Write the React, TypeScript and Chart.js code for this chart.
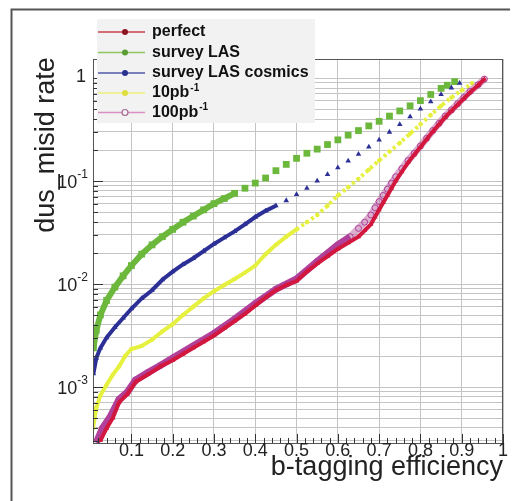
import React, { useEffect, useRef } from "react";
import { Chart, registerables } from "chart.js";
Chart.register(...registerables);

const X_MIN = 0.007;
const X_MAX = 1;
const Y_MIN = 2.86e-4;
const Y_MAX = 1.53;
const X_TICKS = [0.1, 0.2, 0.3, 0.4, 0.5, 0.6, 0.7, 0.8, 0.9, 1];
const X_TICK_LABELS = ["0.1", "0.2", "0.3", "0.4", "0.5", "0.6", "0.7", "0.8", "0.9", "1"];
const Y_DECADES = [1e-4, 1e-3, 1e-2, 1e-1, 1];
const Y_DECADE_LABELS = [["10", "-4"], ["10", "-3"], ["10", "-2"], ["10", "-1"], ["1", ""]];
const Y_MULTIPLIERS = [1, 2, 3, 4, 5, 6, 7, 8, 9];

const X_TITLE = "b-tagging efficiency";
const Y_TITLE = "dus_misid rate";

const SERIES_NAMES = ["perfect", "survey LAS", "survey LAS cosmics", "10pb", "100pb"];

// survey LAS (green)
const greenX = [0.008, 0.015, 0.025, 0.04, 0.06, 0.08, 0.1, 0.125, 0.15, 0.175, 0.2, 0.225, 0.25, 0.275, 0.3, 0.325, 0.35, 0.375, 0.4, 0.425, 0.45, 0.475, 0.5, 0.525, 0.55, 0.575, 0.6, 0.625, 0.65, 0.675, 0.7, 0.725, 0.75, 0.775, 0.8, 0.825, 0.85, 0.865, 0.883];
const greenY = [2.4e-3, 3.55e-3, 5.01e-3, 6.92e-3, 9.33e-3, 1.2e-2, 1.51e-2, 1.95e-2, 2.4e-2, 2.88e-2, 3.39e-2, 3.98e-2, 4.57e-2, 5.25e-2, 6.03e-2, 6.76e-2, 7.59e-2, 8.51e-2, 9.55e-2, 0.107, 0.126, 0.145, 0.166, 0.186, 0.204, 0.226, 0.251, 0.279, 0.309, 0.343, 0.38, 0.427, 0.479, 0.537, 0.603, 0.692, 0.794, 0.851, 0.923];

// survey LAS cosmics (blue)
const blueX = [0.008, 0.015, 0.025, 0.04, 0.06, 0.08, 0.1, 0.125, 0.15, 0.175, 0.2, 0.225, 0.25, 0.275, 0.3, 0.325, 0.35, 0.375, 0.4, 0.425, 0.45, 0.475, 0.5, 0.525, 0.55, 0.575, 0.6, 0.625, 0.65, 0.675, 0.7, 0.725, 0.75, 0.775, 0.8, 0.825, 0.85, 0.875, 0.895];
const blueY = [1.35e-3, 1.91e-3, 2.4e-3, 3.02e-3, 3.8e-3, 4.68e-3, 5.75e-3, 7.24e-3, 8.71e-3, 1.1e-2, 1.32e-2, 1.55e-2, 1.78e-2, 2.09e-2, 2.45e-2, 2.82e-2, 3.24e-2, 3.8e-2, 4.47e-2, 5.13e-2, 5.75e-2, 6.46e-2, 7.41e-2, 8.51e-2, 0.1, 0.116, 0.135, 0.157, 0.182, 0.214, 0.251, 0.299, 0.355, 0.422, 0.501, 0.589, 0.692, 0.804, 0.891];

// 10pb-1 (yellow)
const yellowX = [0.007, 0.015, 0.025, 0.04, 0.055, 0.07, 0.085, 0.1, 0.125, 0.15, 0.175, 0.2, 0.225, 0.25, 0.275, 0.3, 0.325, 0.35, 0.375, 0.4, 0.425, 0.45, 0.475, 0.5, 0.525, 0.55, 0.575, 0.6, 0.625, 0.65, 0.675, 0.7, 0.725, 0.75, 0.775, 0.8, 0.825, 0.85, 0.875, 0.9, 0.925];
const yellowY = [3.98e-4, 6.31e-4, 8.32e-4, 1.05e-3, 1.32e-3, 1.58e-3, 2.0e-3, 2.34e-3, 2.51e-3, 2.88e-3, 3.47e-3, 4.07e-3, 5.01e-3, 6.03e-3, 7.24e-3, 8.51e-3, 9.77e-3, 1.12e-2, 1.29e-2, 1.51e-2, 1.95e-2, 2.4e-2, 2.88e-2, 3.39e-2, 3.98e-2, 4.68e-2, 5.75e-2, 7.24e-2, 8.71e-2, 0.105, 0.129, 0.158, 0.193, 0.234, 0.288, 0.355, 0.437, 0.537, 0.646, 0.759, 0.891];

// perfect (red)
const redX = [0.025, 0.04, 0.055, 0.07, 0.09, 0.11, 0.14, 0.17, 0.2, 0.225, 0.25, 0.275, 0.3, 0.325, 0.35, 0.375, 0.4, 0.425, 0.45, 0.475, 0.5, 0.525, 0.55, 0.575, 0.6, 0.625, 0.65, 0.665, 0.68, 0.69, 0.7, 0.71, 0.72, 0.73, 0.74, 0.755, 0.77, 0.785, 0.8, 0.815, 0.83, 0.845, 0.86, 0.875, 0.89, 0.905, 0.92, 0.94, 0.955];
const redY = [3.02e-4, 3.98e-4, 5.01e-4, 7.08e-4, 8.51e-4, 1.12e-3, 1.32e-3, 1.58e-3, 1.82e-3, 2.09e-3, 2.4e-3, 2.75e-3, 3.16e-3, 3.72e-3, 4.37e-3, 5.13e-3, 6.17e-3, 7.41e-3, 8.71e-3, 9.77e-3, 1.07e-2, 1.32e-2, 1.58e-2, 1.86e-2, 2.19e-2, 2.51e-2, 2.88e-2, 3.31e-2, 3.8e-2, 4.47e-2, 5.25e-2, 6.17e-2, 7.24e-2, 8.51e-2, 0.1, 0.123, 0.151, 0.18, 0.214, 0.254, 0.302, 0.355, 0.417, 0.479, 0.55, 0.631, 0.724, 0.851, 0.977];

// 100pb-1 (magenta)
const magentaX = [0.015, 0.03, 0.05, 0.07, 0.09, 0.11, 0.14, 0.17, 0.2, 0.25, 0.3, 0.35, 0.4, 0.45, 0.5, 0.55, 0.6, 0.63, 0.65, 0.665, 0.68, 0.69, 0.7, 0.71, 0.72, 0.73, 0.74, 0.755, 0.77, 0.785, 0.8, 0.815, 0.83, 0.845, 0.86, 0.875, 0.89, 0.905, 0.92, 0.94, 0.955];
const magentaY = [2.88e-4, 3.98e-4, 5.25e-4, 7.59e-4, 8.91e-4, 1.17e-3, 1.38e-3, 1.62e-3, 1.91e-3, 2.51e-3, 3.31e-3, 4.57e-3, 6.46e-3, 8.91e-3, 1.12e-2, 1.66e-2, 2.4e-2, 2.88e-2, 3.47e-2, 3.98e-2, 4.68e-2, 5.5e-2, 6.31e-2, 7.24e-2, 8.32e-2, 9.55e-2, 0.11, 0.132, 0.158, 0.186, 0.219, 0.26, 0.309, 0.363, 0.427, 0.49, 0.562, 0.646, 0.741, 0.861, 0.977];

const pts = (xs: number[], ys: number[]) => xs.map((x, i) => ({ x, y: ys[i] }));

const FONT = "'Liberation Sans', Arial, Helvetica, sans-serif";

const lineUntil = (limit: number, color: string) => (ctx: any) =>
  ctx.p0.parsed.x < limit ? color : "rgba(0,0,0,0)";

const LEGEND = [
  { name: SERIES_NAMES[0], sup: "", line: "#c8404c", mark: "#8c1424", open: false },
  { name: SERIES_NAMES[1], sup: "", line: "#8cc660", mark: "#5c9c34", open: false },
  { name: SERIES_NAMES[2], sup: "", line: "#5058a8", mark: "#283090", open: false },
  { name: SERIES_NAMES[3], sup: "-1", line: "#eef07a", mark: "#dede40", open: false },
  { name: SERIES_NAMES[4], sup: "-1", line: "#d890c0", mark: "#a86890", open: true },
];

const deco = {
  id: "deco",
  beforeDraw(chart: any) {
    const ctx = chart.ctx;
    ctx.save();
    ctx.fillStyle = "#ffffff";
    ctx.fillRect(0, 0, chart.width, chart.height);
    ctx.restore();
  },
  afterDraw(chart: any) {
    const ctx = chart.ctx;
    const a = chart.chartArea;
    const xs = chart.scales.x;
    const ys = chart.scales.y;
    ctx.save();
    // frame
    ctx.strokeStyle = "#555";
    ctx.lineWidth = 1;
    ctx.strokeRect(a.left + 0.5, a.top + 0.5, a.right - a.left - 1, a.bottom - a.top);
    // tick marks
    ctx.strokeStyle = "#333";
    ctx.beginPath();
    for (let i = 1; i <= 50; i++) {
      const v = i * 0.02;
      if (v < X_MIN) continue;
      const px = Math.round(xs.getPixelForValue(v)) + 0.5;
      const len = i % 5 === 0 ? 9 : 5;
      ctx.moveTo(px, a.bottom);
      ctx.lineTo(px, a.bottom - len);
    }
    Y_DECADES.forEach((d) => {
      Y_MULTIPLIERS.forEach((m) => {
        const v = d * m;
        if (v < Y_MIN || v > Y_MAX) return;
        const py = Math.round(ys.getPixelForValue(v)) + 0.5;
        const len = m === 1 ? 10 : 5;
        ctx.moveTo(a.left, py);
        ctx.lineTo(a.left + len, py);
      });
    });
    ctx.stroke();

    // x tick labels
    ctx.fillStyle = "#222";
    ctx.font = `18px ${FONT}`;
    ctx.textAlign = "center";
    ctx.textBaseline = "alphabetic";
    X_TICKS.forEach((v, i) => {
      ctx.fillText(X_TICK_LABELS[i], xs.getPixelForValue(v), a.bottom + 13);
    });
    // y tick labels
    Y_DECADES.forEach((d, i) => {
      if (d < Y_MIN || d > Y_MAX) return;
      const py = ys.getPixelForValue(d);
      const [base, sup] = Y_DECADE_LABELS[i];
      const right = a.left - 5;
      ctx.textAlign = "right";
      ctx.textBaseline = "middle";
      if (sup) {
        ctx.font = `12px ${FONT}`;
        const sw = ctx.measureText(sup).width;
        ctx.fillText(sup, right, py - 6);
        ctx.font = `18px ${FONT}`;
        ctx.fillText(base, right - sw, py + 2);
      } else {
        ctx.font = `18px ${FONT}`;
        ctx.fillText(base, right - 2, py - 1);
      }
    });

    // axis titles
    ctx.font = `27px ${FONT}`;
    ctx.textAlign = "right";
    ctx.textBaseline = "alphabetic";
    ctx.fillText(X_TITLE, a.right, a.bottom + 32);
    ctx.save();
    ctx.translate(46, 137);
    ctx.rotate(-Math.PI / 2);
    ctx.textAlign = "center";
    ctx.fillText(Y_TITLE, 0, 0);
    ctx.restore();

    // legend
    ctx.fillStyle = "#f2f2f2";
    ctx.fillRect(89, 11, 218, 104);
    const rows = [24, 44.5, 65, 85, 104.5];
    LEGEND.forEach((e, i) => {
      const yy = rows[i];
      ctx.strokeStyle = e.line;
      ctx.lineWidth = 1.5;
      ctx.beginPath();
      ctx.moveTo(90, yy);
      ctx.lineTo(137, yy);
      ctx.stroke();
      ctx.beginPath();
      ctx.arc(117, yy, 3, 0, Math.PI * 2);
      if (e.open) {
        ctx.fillStyle = "#f2f2f2";
        ctx.fill();
        ctx.strokeStyle = e.mark;
        ctx.lineWidth = 1.2;
        ctx.stroke();
      } else {
        ctx.fillStyle = e.mark;
        ctx.fill();
      }
      ctx.fillStyle = "#111";
      ctx.font = `bold 16px ${FONT}`;
      ctx.textAlign = "left";
      ctx.textBaseline = "middle";
      ctx.fillText(e.name, 144, yy);
      if (e.sup) {
        const w = ctx.measureText(e.name).width;
        ctx.font = `bold 10px ${FONT}`;
        ctx.fillText(e.sup, 144 + w + 1, yy - 5);
      }
    });

    // outer frame
    ctx.strokeStyle = "#555";
    ctx.lineWidth = 2;
    ctx.strokeRect(3.5, 1.5, 1000, 1000);
    ctx.restore();
  },
};

export default function App() {
  const ref = useRef<HTMLCanvasElement | null>(null);
  useEffect(() => {
    if (!ref.current) return;
    const chart = new Chart(ref.current, {
      type: "scatter",
      data: {
        datasets: [
          {
            label: "perfect",
            data: pts(redX, redY),
            showLine: true,
            borderColor: "#d2183e",
            backgroundColor: "#d2183e",
            borderWidth: 4,
            pointStyle: "triangle",
            pointRadius: 3,
            pointBorderWidth: 0,
          },
          {
            label: "100pb",
            data: pts(magentaX, magentaY),
            showLine: true,
            borderColor: "#b0409a",
            backgroundColor: "rgba(255,255,255,0)",
            pointBorderColor: "#b0409a",
            borderWidth: 7,
            pointStyle: "circle",
            pointRadius: 3,
            pointBorderWidth: 1,
            segment: {
              borderColor: (ctx: any) => (ctx.p0.parsed.x < 0.62 ? "#b0409a" : "rgba(190,110,170,0.55)"),
            },
          },
          {
            label: "10pb",
            data: pts(yellowX, yellowY),
            showLine: true,
            borderColor: "#e6f03e",
            backgroundColor: "#e6f03e",
            borderWidth: 4,
            pointStyle: "circle",
            pointRadius: 2.2,
            pointBorderWidth: 0,
            segment: {
              borderDash: (ctx: any) => (ctx.p0.parsed.x < 0.5 ? undefined : [3, 3]),
            },
          },
          {
            label: "survey LAS cosmics",
            data: pts(blueX, blueY),
            showLine: true,
            borderColor: "#2c3096",
            backgroundColor: "#2c3096",
            borderWidth: 4,
            pointStyle: "triangle",
            pointRadius: 3.2,
            pointBorderWidth: 0,
            segment: { borderColor: lineUntil(0.45, "#2c3096") },
          },
          {
            label: "survey LAS",
            data: pts(greenX, greenY),
            showLine: true,
            borderColor: "#6cb83c",
            backgroundColor: "#6cb83c",
            borderWidth: 6,
            pointStyle: "rect",
            pointRadius: 4.8,
            pointBorderWidth: 0,
            segment: { borderColor: lineUntil(0.34, "#6cb83c") },
          },
        ],
      },
      options: {
        animation: false,
        responsive: false,
        devicePixelRatio: 1,
        layout: { padding: { left: 0, right: 15, top: 51, bottom: 0 } },
        plugins: { legend: { display: false }, tooltip: { enabled: false } },
        scales: {
          x: {
            type: "linear",
            min: X_MIN,
            max: X_MAX,
            afterBuildTicks: (s: any) => {
              s.ticks = X_TICKS.map((v) => ({ value: v }));
            },
            afterFit: (s: any) => {
              s.height = 58;
            },
            ticks: { display: false },
            grid: { color: "#c4c4c4", lineWidth: 1, drawTicks: false },
            border: { display: false },
          },
          y: {
            type: "logarithmic",
            min: Y_MIN,
            max: Y_MAX,
            afterBuildTicks: (s: any) => {
              const t: any[] = [];
              Y_DECADES.forEach((d) =>
                Y_MULTIPLIERS.forEach((m) => {
                  const v = d * m;
                  if (v >= Y_MIN && v <= Y_MAX) t.push({ value: v });
                })
              );
              s.ticks = t;
            },
            afterFit: (s: any) => {
              s.width = 85;
            },
            ticks: { display: false },
            grid: { color: "#c4c4c4", lineWidth: 1, drawTicks: false },
            border: { display: false },
          },
        },
      },
      plugins: [deco],
    } as any);
    return () => chart.destroy();
  }, []);
  return <canvas ref={ref} width={510} height={493} style={{ display: "block" }} />;
}
